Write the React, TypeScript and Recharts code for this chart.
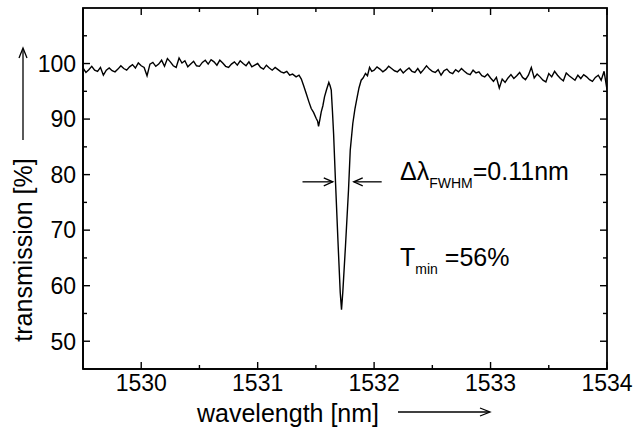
import { LineChart, Line, XAxis, YAxis, ReferenceLine } from "recharts"

// measured transmission scan: [wavelength nm, transmission %]
const leftScan: [number, number][] = [
  [1529.5, 99.2], [1529.525, 98.4], [1529.55, 98.9], [1529.575, 99.5], [1529.6, 98.8],
  [1529.625, 98.6], [1529.65, 99.3], [1529.675, 97.9], [1529.7, 98.8], [1529.725, 99.2],
  [1529.75, 98.7], [1529.775, 98.5], [1529.8, 99.0], [1529.825, 99.6], [1529.85, 99.1],
  [1529.875, 98.8], [1529.9, 99.4], [1529.925, 99.8], [1529.95, 99.2], [1529.975, 100.1],
  [1530.0, 99.6], [1530.025, 99.3], [1530.05, 97.8], [1530.075, 99.9], [1530.1, 100.2],
  [1530.125, 99.5], [1530.15, 99.9], [1530.175, 100.6], [1530.2, 99.5], [1530.225, 100.9],
  [1530.25, 100.3], [1530.275, 99.6], [1530.3, 99.3], [1530.325, 101.0], [1530.35, 100.1],
  [1530.375, 100.5], [1530.4, 99.4], [1530.425, 99.9], [1530.45, 100.4], [1530.475, 99.6],
  [1530.5, 99.5], [1530.525, 100.2], [1530.55, 100.6], [1530.575, 99.9], [1530.6, 100.7],
  [1530.625, 100.3], [1530.65, 99.7], [1530.675, 100.6], [1530.7, 100.1], [1530.725, 99.5],
  [1530.75, 99.3], [1530.775, 99.9], [1530.8, 100.3], [1530.825, 99.7], [1530.85, 100.5],
  [1530.875, 100.0], [1530.9, 99.6], [1530.925, 100.3], [1530.95, 99.4], [1530.975, 99.7],
  [1531.0, 100.0], [1531.025, 99.3], [1531.05, 99.0], [1531.075, 99.7], [1531.1, 99.2],
  [1531.125, 98.8], [1531.15, 99.3], [1531.175, 98.9], [1531.2, 98.5], [1531.225, 98.3],
  [1531.25, 98.6], [1531.275, 97.9], [1531.3, 98.1],
]

const dipScan: [number, number][] = [
  [1531.33, 97.6], [1531.355, 97.9], [1531.375, 97.2], [1531.395, 96.0], [1531.417, 94.6],
  [1531.44, 93.1], [1531.46, 91.9], [1531.48, 91.2], [1531.503, 90.1], [1531.515, 89.6],
  [1531.523, 88.7], [1531.535, 90.0], [1531.546, 91.3], [1531.56, 92.4], [1531.574, 94.0],
  [1531.59, 95.2], [1531.611, 96.6], [1531.622, 96.0], [1531.632, 95.2], [1531.642, 91.5],
  [1531.652, 87.4], [1531.669, 78.4], [1531.689, 68.3], [1531.709, 58.8], [1531.72, 55.7],
  [1531.731, 58.8], [1531.754, 67.1], [1531.78, 77.2], [1531.795, 84.4], [1531.817, 89.2],
  [1531.835, 91.8], [1531.852, 93.7], [1531.87, 95.6], [1531.889, 97.0], [1531.905, 97.4],
  [1531.926, 98.2], [1531.943, 97.8], [1531.961, 99.3], [1531.98, 98.6],
]

const rightScan: [number, number][] = [
  [1532.0, 98.8], [1532.025, 99.4], [1532.05, 99.0], [1532.075, 98.5], [1532.1, 98.9],
  [1532.125, 99.5], [1532.15, 99.1], [1532.175, 98.7], [1532.2, 98.5], [1532.225, 99.0],
  [1532.25, 98.3], [1532.275, 98.8], [1532.3, 99.2], [1532.325, 98.6], [1532.35, 98.4],
  [1532.375, 99.1], [1532.4, 98.3], [1532.425, 98.9], [1532.45, 99.6], [1532.475, 99.0],
  [1532.5, 98.6], [1532.525, 98.4], [1532.55, 98.9], [1532.575, 97.9], [1532.6, 98.7],
  [1532.625, 99.0], [1532.65, 98.4], [1532.675, 98.2], [1532.7, 98.9], [1532.725, 98.5],
  [1532.75, 99.1], [1532.775, 98.6], [1532.8, 98.2], [1532.825, 98.0], [1532.85, 98.8],
  [1532.875, 98.3], [1532.9, 98.5], [1532.925, 97.8], [1532.95, 97.6], [1532.975, 98.1],
  [1533.0, 97.4], [1533.025, 96.8], [1533.05, 97.5], [1533.075, 95.6], [1533.1, 97.2],
  [1533.125, 96.6], [1533.15, 97.4], [1533.175, 98.0], [1533.2, 97.3], [1533.225, 97.8],
  [1533.25, 98.4], [1533.275, 97.5], [1533.3, 97.1], [1533.325, 97.9], [1533.35, 99.3],
  [1533.375, 97.4], [1533.4, 98.1], [1533.425, 97.6], [1533.45, 97.0], [1533.475, 96.7],
  [1533.5, 98.2], [1533.525, 97.6], [1533.55, 98.6], [1533.575, 97.9], [1533.6, 97.3],
  [1533.625, 96.9], [1533.65, 98.3], [1533.675, 97.8], [1533.7, 97.4], [1533.725, 97.0],
  [1533.75, 97.9], [1533.775, 97.3], [1533.8, 98.0], [1533.825, 97.6], [1533.85, 97.1],
  [1533.875, 96.8], [1533.9, 97.5], [1533.925, 97.9], [1533.95, 97.0], [1533.975, 98.6],
  [1534.0, 95.3],
]

const xDomain = [1529.5, 1534]
const yDomain = [45, 110]
const xTicks = [1530, 1530.5, 1531, 1531.5, 1532, 1532.5, 1533, 1533.5, 1534]
const yTicks = [50, 55, 60, 65, 70, 75, 80, 85, 90, 95, 100, 105]

// FWHM marker arrows (level, tail, head)
const fwhmLevel = 78.7
const fwhmLeft = [1531.385, 1531.645]
const fwhmRight = [1532.065, 1531.825]

const data = [...leftScan, ...dipScan, ...rightScan].map(([wl, t]) => ({ wl, t }))

const FONT = "'Liberation Sans', Arial, Helvetica, sans-serif"
const PLOT = { left: 83, top: 8, right: 607, bottom: 369 }
const isMajor = (v: number, step: number) => Math.abs(v / step - Math.round(v / step)) < 1e-6
// frame-only helpers for the mirrored top/right ticks
const fx = (v: number) => PLOT.left + ((v - xDomain[0]) / (xDomain[1] - xDomain[0])) * (PLOT.right - PLOT.left)
const fy = (v: number) => PLOT.bottom - ((v - yDomain[0]) / (yDomain[1] - yDomain[0])) * (PLOT.bottom - PLOT.top)

const BottomTick = (props: any) => {
  const { x, payload } = props
  const len = isMajor(payload.value, 1) ? 7 : 4
  return (
    <g>
      <line x1={x} x2={x} y1={PLOT.bottom} y2={PLOT.bottom - len} stroke="black" strokeWidth={1.4} />
      {len === 7 && (
        <text x={x} y={PLOT.bottom + 6} dy="0.71em" textAnchor="middle" fontSize={23} fontFamily={FONT} fill="black">
          {payload.value}
        </text>
      )}
    </g>
  )
}

const LeftTick = (props: any) => {
  const { y, payload } = props
  const len = isMajor(payload.value, 10) ? 7 : 4
  return (
    <g>
      <line x1={PLOT.left} x2={PLOT.left + len} y1={y} y2={y} stroke="black" strokeWidth={1.4} />
      {len === 7 && (
        <text x={PLOT.left - 7} y={y} dy="0.36em" textAnchor="end" fontSize={23} fontFamily={FONT} fill="black">
          {payload.value}
        </text>
      )}
    </g>
  )
}

const ArrowShape = (p: any) => {
  const { x1, y1, x2, y2 } = p
  const dir = Math.sign(x2 - x1)
  return (
    <g>
      <line x1={x1} y1={y1} x2={x2} y2={y2} stroke="black" strokeWidth={1.3} />
      <path d={`M${x2 - dir * 9},${y2 - 4} L${x2},${y2} L${x2 - dir * 9},${y2 + 4}`} fill="none" stroke="black" strokeWidth={1.3} />
    </g>
  )
}

const axisLine = { stroke: "black", strokeWidth: 1.6 }

const App = () => {
  return (
    <div style={{ position: "absolute", left: 0, top: 0, width: 644, height: 427, background: "#fff" }}>
      <LineChart width={644} height={427} data={data} margin={{ top: 8, right: 37, bottom: 28, left: 23 }}>
        <XAxis dataKey="wl" type="number" domain={xDomain} allowDataOverflow
          ticks={xTicks} interval={0} height={30} tickSize={0} tickLine={false} tick={BottomTick} axisLine={axisLine} />
        <YAxis type="number" domain={yDomain} allowDataOverflow
          ticks={yTicks} interval={0} width={60} tickSize={0} tickLine={false} tick={LeftTick} axisLine={axisLine} />
        <Line type="linear" dataKey="t" stroke="black" strokeWidth={1.4} dot={false} isAnimationActive={false} />
        <ReferenceLine ifOverflow="visible"
          segment={[{ x: fwhmLeft[0], y: fwhmLevel }, { x: fwhmLeft[1], y: fwhmLevel }]} shape={ArrowShape} />
        <ReferenceLine ifOverflow="visible"
          segment={[{ x: fwhmRight[0], y: fwhmLevel }, { x: fwhmRight[1], y: fwhmLevel }]} shape={ArrowShape} />
      </LineChart>
      <svg width={644} height={427} style={{ position: "absolute", left: 0, top: 0, pointerEvents: "none" }}
        fontFamily={FONT}>
        <rect x={PLOT.left} y={PLOT.top} width={PLOT.right - PLOT.left} height={PLOT.bottom - PLOT.top}
          fill="none" stroke="black" strokeWidth={1.8} />
        {xTicks.map((v) => (
          <rect key={`t${v}`} x={fx(v) - 0.7} y={PLOT.top} width={1.4} height={isMajor(v, 1) ? 7 : 4} fill="black" />
        ))}
        {yTicks.map((v) => (
          <rect key={`r${v}`} x={PLOT.right - (isMajor(v, 10) ? 7 : 4)} y={fy(v) - 0.7}
            width={isMajor(v, 10) ? 7 : 4} height={1.4} fill="black" />
        ))}
        <text transform="translate(32,250) rotate(-90)" textAnchor="middle" fontSize={25} fill="black">transmission [%]</text>
        <line x1={23} y1={140} x2={23} y2={49} stroke="black" strokeWidth={1.3} />
        <path d="M19,58 L23,48 L27,58" fill="none" stroke="black" strokeWidth={1.3} />
        <text x={197} y={422} fontSize={25} fill="black">wavelength [nm]</text>
        <line x1={398} y1={412} x2={489} y2={412} stroke="black" strokeWidth={1.3} />
        <path d="M480,408 L490,412 L480,416" fill="none" stroke="black" strokeWidth={1.3} />
        <text x={400} y={180} fontSize={25} fill="black">
          Δλ<tspan fontSize={14} dy={8}>FWHM</tspan><tspan dy={-8}>=0.11nm</tspan>
        </text>
        <text x={400} y={266} fontSize={25} fill="black">
          T<tspan fontSize={14} dy={8}>min</tspan><tspan dy={-8}> =56%</tspan>
        </text>
      </svg>
    </div>
  )
}

export default App
